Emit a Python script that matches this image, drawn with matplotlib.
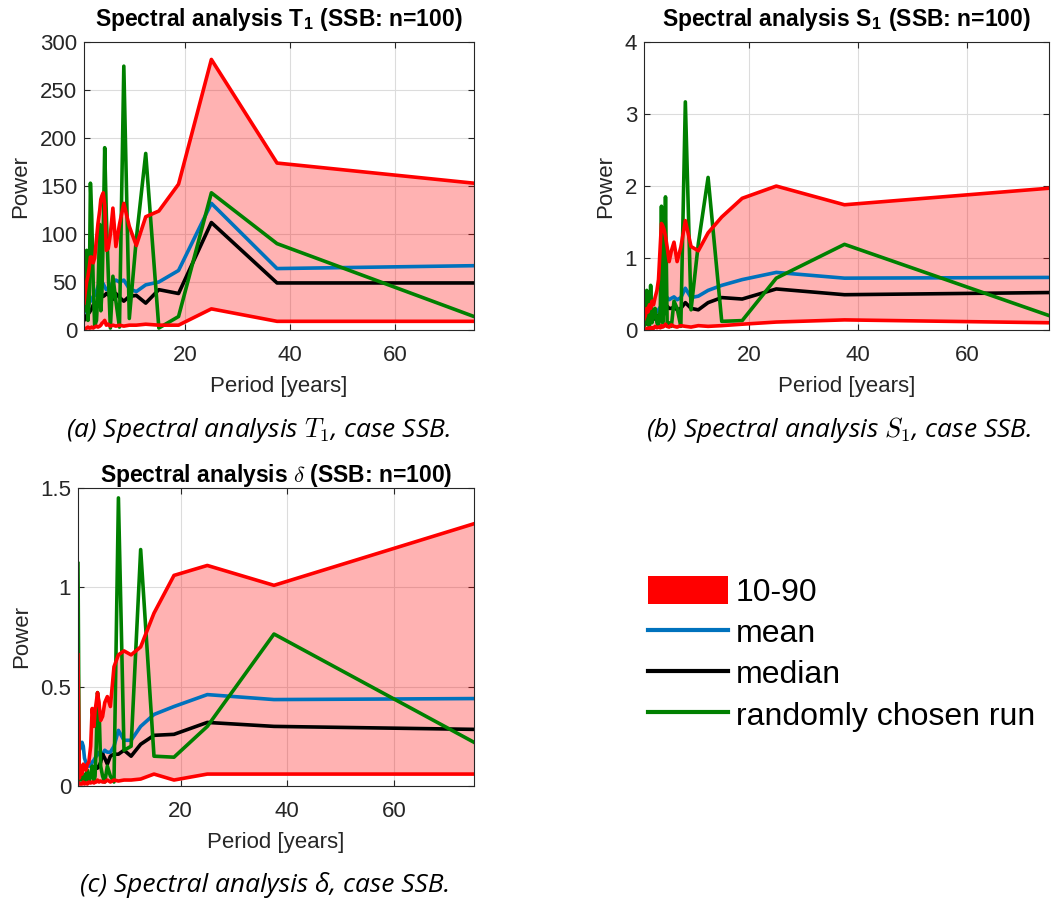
import numpy as np
import matplotlib
matplotlib.use('Agg')
import matplotlib.pyplot as plt
import matplotlib.ticker as ticker
from matplotlib.patches import Patch
from matplotlib.lines import Line2D

plt.rcParams['font.family'] = ['Liberation Sans', 'DejaVu Sans']
plt.rcParams['mathtext.fontset'] = 'cm'

# periods of the spectral estimate [years]
period = [75, 37.5, 25, 18.75, 15, 12.5, 10.71, 9.375, 8.33, 7.5, 6.82, 6.25,
          5.77, 5.36, 5.0, 4.69, 4.41, 4.17, 3.95, 3.75, 3.41, 3.125, 2.78,
          2.5, 2.21, 1.97, 1.74, 1.5, 1.25, 1.0, 0.75]

# T1
t1_p90 = [153, 174, 282, 152, 124, 118, 88, 108, 132, 110, 87, 127, 100, 85,
          83, 130, 143, 140, 136, 125, 111, 95, 75, 70, 76, 76, 65, 56, 50, 40, 28]
t1_p10 = [9, 9, 22, 5, 5, 6, 5, 5, 4, 5, 4, 5, 4, 6, 5, 10, 8, 7, 5, 4, 3, 4,
          3, 2, 3, 2, 2, 3, 2, 1.5, 1]
t1_mean = [67, 64, 132, 62, 50, 47, 40, 43, 52, 50, 52, 50, 45, 42, 42, 45, 48,
           50, 52, 50, 45, 40, 36, 35, 32, 30, 28, 25, 22, 20, 18]
t1_median = [49, 49, 112, 38, 42, 28, 36, 35, 30, 34, 38, 32, 34, 37, 38, 36,
             35, 37, 38, 35, 30, 28, 25, 26, 22, 20, 18, 17, 15, 12, 10]
t1_run = [14, 90, 143, 14, 2, 184, 95, 12, 275, 3, 30, 56, 2, 60, 120, 190,
          100, 40, 20, 110, 40, 10, 4, 50, 120, 153, 30, 10, 83, 20, 60]

# S1
s1_p90 = [1.97, 1.74, 2.0, 1.83, 1.57, 1.35, 1.1, 1.16, 1.52, 1.15, 0.95, 1.22,
          1.1, 0.95, 1.15, 1.3, 1.4, 1.45, 1.48, 1.2, 0.7, 0.55, 0.45, 0.35,
          0.4, 0.3, 0.35, 0.25, 0.3, 0.2, 0.15]
s1_p10 = [0.1, 0.14, 0.11, 0.08, 0.06, 0.05, 0.06, 0.04, 0.05, 0.06, 0.04, 0.05,
          0.07, 0.04, 0.05, 0.08, 0.05, 0.04, 0.06, 0.03, 0.04, 0.03, 0.05, 0.02,
          0.03, 0.02, 0.03, 0.02, 0.02, 0.01, 0.01]
s1_mean = [0.73, 0.72, 0.8, 0.7, 0.62, 0.55, 0.47, 0.45, 0.58, 0.45, 0.42, 0.46,
           0.44, 0.42, 0.45, 0.48, 0.45, 0.4, 0.35, 0.32, 0.28, 0.25, 0.24,
           0.23, 0.2, 0.19, 0.17, 0.15, 0.14, 0.12, 0.1]
s1_median = [0.52, 0.49, 0.57, 0.43, 0.45, 0.38, 0.28, 0.3, 0.38, 0.3, 0.28,
             0.32, 0.3, 0.3, 0.33, 0.35, 0.3, 0.28, 0.25, 0.22, 0.2, 0.18, 0.16,
             0.15, 0.14, 0.12, 0.11, 0.1, 0.09, 0.08, 0.07]
s1_run = [0.2, 1.19, 0.72, 0.13, 0.12, 2.12, 1.2, 0.28, 3.17, 0.05, 0.3, 0.4,
          0.05, 0.1, 0.05, 1.85, 0.3, 0.1, 1.72, 0.3, 0.05, 0.1, 0.3, 0.2,
          0.1, 0.62, 0.05, 0.1, 0.55, 0.1, 0.05]

# delta
d_p90 = [1.32, 1.01, 1.11, 1.06, 0.87, 0.7, 0.66, 0.68, 0.66, 0.6, 0.4, 0.45,
         0.42, 0.35, 0.33, 0.42, 0.47, 0.42, 0.38, 0.3, 0.39, 0.2, 0.12, 0.11,
         0.08, 0.1, 0.11, 0.06, 0.1, 0.04, 0.66]
d_p10 = [0.06, 0.06, 0.06, 0.03, 0.06, 0.035, 0.03, 0.03, 0.025, 0.03, 0.02,
         0.03, 0.02, 0.02, 0.025, 0.02, 0.03, 0.02, 0.02, 0.015, 0.02, 0.015,
         0.02, 0.01, 0.015, 0.01, 0.02, 0.01, 0.01, 0.01, 0.02]
d_mean = [0.44, 0.435, 0.46, 0.4, 0.36, 0.3, 0.23, 0.23, 0.28, 0.2, 0.17, 0.17,
          0.18, 0.16, 0.15, 0.16, 0.17, 0.15, 0.14, 0.13, 0.12, 0.1, 0.1, 0.11,
          0.12, 0.14, 0.2, 0.22, 0.2, 0.18, 0.28]
d_median = [0.285, 0.3, 0.32, 0.26, 0.255, 0.21, 0.15, 0.18, 0.16, 0.16, 0.15,
            0.11, 0.14, 0.16, 0.12, 0.1, 0.09, 0.1, 0.08, 0.09, 0.07, 0.06,
            0.05, 0.06, 0.05, 0.05, 0.04, 0.05, 0.04, 0.03, 0.2]
d_run = [0.22, 0.765, 0.3, 0.145, 0.15, 1.19, 0.2, 0.18, 1.45, 0.02, 0.05, 0.1,
         0.02, 0.05, 0.1, 0.4, 0.47, 0.2, 0.05, 0.02, 0.1, 0.05, 0.02, 0.08,
         0.05, 0.02, 0.06, 0.03, 0.05, 0.03, 1.12]

BLUE = '#0072BD'
GREEN = '#008000'
RED = '#FF0000'
AXC = '#262626'


def panel(ax, p10, p90, mean, median, run, ymax, ystep, title, tpad=12):
    x = np.array(period)
    ax.fill_between(x, p10, p90, color=RED, alpha=0.3, linewidth=0)
    ax.plot(x, mean, color=BLUE, lw=2.6)
    ax.plot(x, median, color='black', lw=2.6)
    ax.plot(x, run, color=GREEN, lw=2.6)
    ax.plot(x, p90, color=RED, lw=2.6)
    ax.plot(x, p10, color=RED, lw=2.6)
    ax.set_xlim(0.75, 75)
    ax.set_ylim(0, ymax)
    ax.set_xticks([20, 40, 60])
    ax.set_yticks(np.arange(0, ymax + ystep / 2, ystep))
    ax.yaxis.set_major_formatter(ticker.FuncFormatter(lambda v, p: '%g' % v))
    ax.grid(True, color='#dcdcdc', lw=0.8)
    ax.set_axisbelow(True)
    for s in ax.spines.values():
        s.set_color(AXC)
        s.set_linewidth(0.8)
    ax.tick_params(direction='in', top=True, right=True, length=4,
                   colors=AXC, labelsize=16, labelcolor=AXC)
    ax.tick_params(axis='x', pad=11)
    ax.tick_params(axis='y', pad=5)
    ax.set_xlabel('Period [years]', fontsize=16, color=AXC, labelpad=7)
    ax.set_ylabel('Power', fontsize=16, color=AXC, labelpad=6)
    ax.set_title(title, fontsize=16.5, fontweight='bold', pad=tpad)


fig = plt.figure(figsize=(10.54, 9.05), dpi=100)
ax1 = fig.add_axes([0.0797, 0.6354, 0.370, 0.318])
ax2 = fig.add_axes([0.611, 0.6354, 0.3843, 0.318])
ax3 = fig.add_axes([0.074, 0.1315, 0.3757, 0.3293])

panel(ax1, t1_p10, t1_p90, t1_mean, t1_median, t1_run, 300, 50,
      r'Spectral analysis T$_{\mathregular{1}}$ (SSB: n=100)')
panel(ax2, s1_p10, s1_p90, s1_mean, s1_median, s1_run, 4, 1,
      r'Spectral analysis S$_{\mathregular{1}}$ (SSB: n=100)')
panel(ax3, d_p10, d_p90, d_mean, d_median, d_run, 1.5, 0.5,
      r'Spectral analysis $\delta$ (SSB: n=100)', tpad=4)

cap = dict(ha='center', va='center', fontsize=19, style='italic',
           family=['Open Sans', 'DejaVu Sans'])
fig.text(0.245, 1 - 430 / 905, r'(a) Spectral analysis $T_1$, case SSB.', **cap)
fig.text(0.796, 1 - 430 / 905, r'(b) Spectral analysis $S_1$, case SSB.', **cap)
fig.text(0.252, 1 - 885 / 905, '(c) Spectral analysis δ, case SSB.', **cap)

handles = [Patch(facecolor=RED, edgecolor='none'),
           Line2D([], [], color=BLUE, lw=3),
           Line2D([], [], color='black', lw=3),
           Line2D([], [], color=GREEN, lw=3)]
labels = ['10-90', 'mean', 'median', 'randomly chosen run']
fig.legend(handles, labels, loc='upper left', bbox_to_anchor=(648 / 1054, 1 - 576 / 905),
           frameon=False, fontsize=23, handlelength=2.5, handleheight=0.95,
           labelspacing=0.3, handletextpad=0.25, borderpad=0, borderaxespad=0)

fig.savefig('out.png', dpi=100)
